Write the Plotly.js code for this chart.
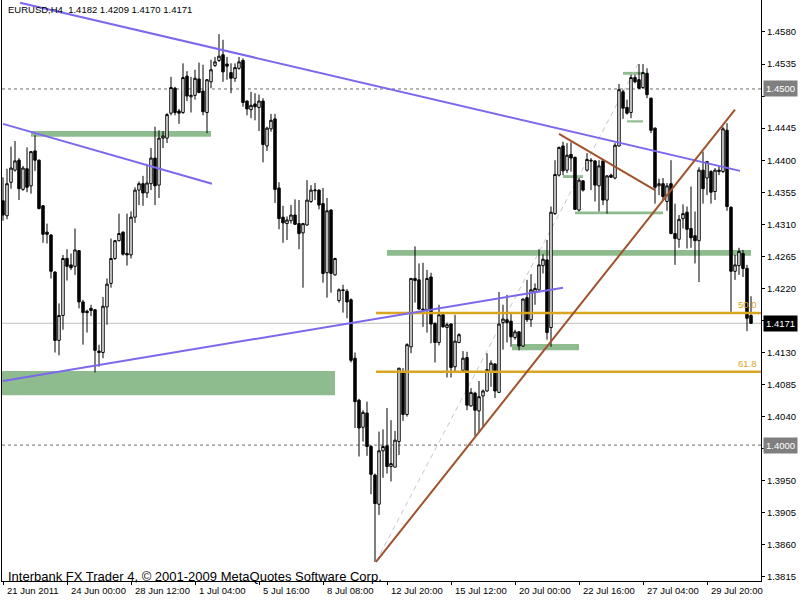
<!DOCTYPE html>
<html>
<head>
<meta charset="utf-8">
<script src="https://cdn.plot.ly/plotly-3.0.1.min.js"></script>
<style>html,body{margin:0;padding:0;background:#fff;}#chart{width:800px;height:600px;}</style>
</head>
<body>
<div id="chart"></div>
<script>
// ---- Candle data (EURUSD H4), one value per bar ----
var openP = [1.4343,1.4322,1.4369,1.4386,1.4400,1.4359,1.4388,1.4364,1.4413,1.4400,
1.4336,1.4299,1.4295,1.4243,1.4147,1.4182,1.4262,1.4253,1.4251,1.4273,
1.4201,1.4188,1.4192,1.4190,1.4132,1.4130,1.4194,1.4227,1.4262,1.4287,
1.4299,1.4269,1.4267,1.4320,1.4358,1.4367,1.4354,1.4367,1.4403,1.4365,
1.4431,1.4431,1.4466,1.4501,1.4469,1.4467,1.4518,1.4489,1.4491,1.4514,
1.4497,1.4467,1.4510,1.4533,1.4540,1.4548,1.4535,1.4523,1.4515,1.4529,
1.4540,1.4483,1.4471,1.4479,1.4474,1.4483,1.4420,1.4444,1.4458,1.4361,
1.4320,1.4311,1.4315,1.4323,1.4311,1.4298,1.4309,1.4342,1.4357,1.4358,
1.4339,1.4242,1.4330,1.4239,1.4203,1.4218,1.4216,1.4204,1.4122,1.4063,
1.4025,1.4045,1.3998,1.3958,1.3917,1.3992,1.3999,1.3970,1.3969,1.4005,
1.4102,1.4043,1.4138,1.4234,1.4232,1.4189,1.4190,1.4236,1.4171,1.4144,
1.4183,1.4165,1.4170,1.4110,1.4144,1.4105,1.4123,1.4055,1.4073,1.4048,
1.4069,1.4076,1.4103,1.4114,1.4074,1.4172,1.4176,1.4174,1.4151,1.4159,
1.4139,1.4207,1.4176,1.4215,1.4218,1.4252,1.4260,1.4165,1.4325,1.4379,
1.4420,1.4386,1.4408,1.4404,1.4330,1.4371,1.4386,1.4400,1.4399,1.4364,
1.4399,1.4344,1.4379,1.4375,1.4420,1.4496,1.4474,1.4467,1.4516,1.4513,
1.4502,1.4522,1.4487,1.4445,1.4364,1.4367,1.4342,1.4367,1.4297,1.4289,
1.4318,1.4327,1.4304,1.4294,1.4287,1.4386,1.4375,1.4384,1.4356,1.4384,
1.4384,1.4442,1.4334,1.4244,1.4252,1.4269,1.4248,1.4182];
var highP = [1.4376,1.4388,1.4419,1.4427,1.4403,1.4392,1.4418,1.4413,1.4435,1.4401,
1.4337,1.4311,1.4296,1.4244,1.4199,1.4267,1.4275,1.4269,1.4304,1.4274,
1.4204,1.4190,1.4197,1.4191,1.4141,1.4208,1.4234,1.4290,1.4288,1.4325,
1.4300,1.4325,1.4328,1.4362,1.4370,1.4378,1.4393,1.4417,1.4447,1.4442,
1.4441,1.4466,1.4517,1.4503,1.4472,1.4536,1.4525,1.4517,1.4527,1.4537,
1.4534,1.4514,1.4541,1.4545,1.4577,1.4569,1.4545,1.4536,1.4536,1.4545,
1.4543,1.4484,1.4496,1.4494,1.4492,1.4487,1.4447,1.4465,1.4465,1.4369,
1.4336,1.4321,1.4337,1.4345,1.4344,1.4312,1.4372,1.4365,1.4368,1.4359,
1.4361,1.4347,1.4331,1.4263,1.4220,1.4225,1.4219,1.4206,1.4130,1.4065,
1.4049,1.4061,1.4000,1.3960,1.4019,1.4022,1.4052,1.4035,1.4020,1.4108,
1.4108,1.4143,1.4234,1.4279,1.4255,1.4256,1.4246,1.4242,1.4172,1.4197,
1.4185,1.4172,1.4171,1.4183,1.4157,1.4132,1.4131,1.4080,1.4075,1.4090,
1.4078,1.4129,1.4119,1.4115,1.4215,1.4197,1.4211,1.4185,1.4162,1.4160,
1.4206,1.4232,1.4240,1.4227,1.4275,1.4268,1.4288,1.4335,1.4400,1.4419,
1.4426,1.4424,1.4425,1.4405,1.4375,1.4372,1.4410,1.4403,1.4400,1.4400,
1.4400,1.4379,1.4381,1.4424,1.4507,1.4499,1.4485,1.4520,1.4520,1.4535,
1.4535,1.4529,1.4488,1.4446,1.4374,1.4375,1.4368,1.4400,1.4339,1.4323,
1.4338,1.4335,1.4363,1.4328,1.4390,1.4412,1.4399,1.4386,1.4389,1.4392,
1.4447,1.4452,1.4335,1.4267,1.4277,1.4274,1.4253,1.4209];
var lowP = [1.4315,1.4317,1.4360,1.4384,1.4344,1.4357,1.4355,1.4353,1.4385,1.4331,
1.4284,1.4283,1.4234,1.4130,1.4126,1.4162,1.4231,1.4246,1.4239,1.4192,
1.4141,1.4158,1.4181,1.4102,1.4110,1.4122,1.4169,1.4221,1.4260,1.4286,
1.4266,1.4252,1.4262,1.4312,1.4337,1.4336,1.4347,1.4358,1.4337,1.4347,
1.4417,1.4424,1.4463,1.4463,1.4451,1.4465,1.4483,1.4467,1.4485,1.4494,
1.4463,1.4438,1.4501,1.4531,1.4538,1.4510,1.4513,1.4494,1.4510,1.4527,
1.4475,1.4463,1.4459,1.4456,1.4441,1.4397,1.4413,1.4440,1.4340,1.4303,
1.4284,1.4288,1.4311,1.4309,1.4275,1.4221,1.4308,1.4340,1.4344,1.4331,
1.4228,1.4207,1.4214,1.4238,1.4200,1.4186,1.4178,1.4116,1.4024,1.3984,
1.4005,1.3985,1.3931,1.3836,1.3902,1.3954,1.3960,1.3949,1.3969,1.3986,
1.4034,1.4040,1.4129,1.4200,1.4190,1.4166,1.4158,1.4143,1.4116,1.4140,
1.4165,1.4095,1.4095,1.4103,1.4143,1.4104,1.4049,1.4054,1.4013,1.4017,
1.4026,1.4075,1.4082,1.4066,1.4073,1.4134,1.4144,1.4138,1.4148,1.4133,
1.4138,1.4173,1.4166,1.4197,1.4215,1.4241,1.4148,1.4138,1.4323,1.4377,
1.4379,1.4382,1.4384,1.4330,1.4328,1.4356,1.4384,1.4358,1.4342,1.4328,
1.4337,1.4325,1.4375,1.4373,1.4419,1.4458,1.4464,1.4459,1.4508,1.4500,
1.4500,1.4487,1.4438,1.4339,1.4351,1.4344,1.4329,1.4296,1.4253,1.4277,
1.4304,1.4276,1.4277,1.4255,1.4229,1.4339,1.4351,1.4339,1.4344,1.4379,
1.4382,1.4329,1.4187,1.4232,1.4239,1.4236,1.4160,1.4170];
var closeP = [1.4323,1.4367,1.4389,1.4399,1.4360,1.4389,1.4362,1.4412,1.4400,1.4332,
1.4296,1.4296,1.4244,1.4147,1.4182,1.4262,1.4251,1.4249,1.4274,1.4201,
1.4186,1.4186,1.4189,1.4133,1.4130,1.4195,1.4226,1.4262,1.4287,1.4297,
1.4268,1.4267,1.4320,1.4358,1.4367,1.4354,1.4368,1.4403,1.4364,1.4431,
1.4434,1.4464,1.4502,1.4467,1.4466,1.4516,1.4490,1.4491,1.4515,1.4495,
1.4468,1.4513,1.4527,1.4538,1.4546,1.4524,1.4532,1.4515,1.4530,1.4538,
1.4481,1.4472,1.4477,1.4475,1.4483,1.4422,1.4445,1.4456,1.4359,1.4318,
1.4312,1.4316,1.4323,1.4310,1.4297,1.4311,1.4344,1.4358,1.4358,1.4337,
1.4241,1.4329,1.4241,1.4262,1.4218,1.4217,1.4201,1.4119,1.4061,1.4024,
1.4046,1.3998,1.3959,1.3918,1.3992,1.3998,1.3970,1.3974,1.4007,1.4108,
1.4043,1.4141,1.4234,1.4231,1.4191,1.4191,1.4234,1.4170,1.4144,1.4183,
1.4166,1.4169,1.4109,1.4146,1.4155,1.4122,1.4056,1.4074,1.4049,1.4068,
1.4076,1.4106,1.4115,1.4076,1.4170,1.4177,1.4172,1.4152,1.4159,1.4139,
1.4205,1.4176,1.4218,1.4220,1.4253,1.4261,1.4158,1.4327,1.4380,1.4418,
1.4385,1.4407,1.4403,1.4331,1.4372,1.4358,1.4401,1.4399,1.4365,1.4392,
1.4344,1.4378,1.4376,1.4421,1.4499,1.4473,1.4466,1.4516,1.4510,1.4501,
1.4523,1.4492,1.4442,1.4362,1.4367,1.4349,1.4364,1.4297,1.4290,1.4317,
1.4325,1.4303,1.4291,1.4287,1.4386,1.4360,1.4398,1.4355,1.4386,1.4386,
1.4444,1.4335,1.4244,1.4253,1.4272,1.4248,1.4178,1.4171];

// ---- Time axis labels (bar index of each label) ----
var timeTickBars = [0,16,32,48,64,80,96,112,128,144,160,176];
var timeTickLabels = ["21 Jun 2011","24 Jun 00:00","28 Jun 12:00","1 Jul 04:00","5 Jul 16:00","8 Jul 08:00",
  "12 Jul 20:00","15 Jul 12:00","20 Jul 00:00","22 Jul 16:00","27 Jul 04:00","29 Jul 20:00"];

// ---- Price axis labels (ticks hidden behind the boxed labels get no text) ----
var priceTicks = [1.3815,1.3860,1.3905,1.3950,1.3995,1.4040,1.4085,1.4130,1.4175,1.4220,
  1.4265,1.4310,1.4355,1.4400,1.4445,1.4490,1.4535,1.4580];
var priceTickLabels = ["1.3815","1.3860","1.3905","1.3950","","1.4040","1.4085","1.4130","","1.4220",
  "1.4265","1.4310","1.4355","1.4400","1.4445","","1.4535","1.4580"];

// ---- Drawn objects (bar index / price) ----
var trendStartBar = [4.25, 0, 0, 93.25, 139];
var trendStartPrice = [1.4621, 1.4451, 1.4090, 1.3836, 1.4437];
var trendEndBar = [184.25, 52.25, 140, 183, 163];
var trendEndPrice = [1.4385, 1.4367, 1.4221, 1.4471, 1.4358];
var trendColor = ["#7B68EE","#7B68EE","#7B68EE","#A0522D","#A0522D"];

var zoneStartBar = [7, -1, 96, 127.25, 143, 140, 155, 156];
var zoneEndBar   = [52, 83, 187, 144, 165, 145, 160, 160];
var zoneLow      = [1.4433, 1.4070, 1.4266, 1.4133, 1.4324, 1.4375, 1.4520, 1.4453];
var zoneHigh     = [1.4441, 1.4104, 1.4274, 1.4142, 1.4328, 1.4379, 1.4524, 1.4456];

var fibLowBar = 93.25, fibLowPrice = 1.3836;
var fibHighBar = 158.75, fibHighPrice = 1.4535;
var fibLevels = [50.0, 61.8];

var hLinePrices = [1.4500, 1.4000];
var bidPrice = 1.4171;

var headerText = "EURUSD,H4  1.4182 1.4209 1.4170 1.4171";
var footerText = "Interbank FX Trader 4, \u00A9 2001-2009 MetaQuotes Software Corp.";

// ---- Build ----
var bars = openP.map(function(_, i){ return i; });
var FONT = "Liberation Sans, Arial, sans-serif";

var trace = {
  type: "candlestick",
  x: bars, open: openP, high: highP, low: lowP, close: closeP,
  increasing: {line: {color: "#000", width: 1}, fillcolor: "#fff"},
  decreasing: {line: {color: "#000", width: 1}, fillcolor: "#000"},
  whiskerwidth: 0,
  hoverinfo: "skip",
  showlegend: false
};

var xMin = -0.25, xMax = 189.5;
var shapes = [];

zoneStartBar.forEach(function(s, k){
  shapes.push({type:"rect", xref:"x", yref:"y", x0:s, x1:zoneEndBar[k], y0:zoneLow[k], y1:zoneHigh[k],
    fillcolor:"#8FBC8F", line:{width:0}, layer:"below"});
});
hLinePrices.forEach(function(p){
  shapes.push({type:"line", xref:"paper", yref:"y", x0:0, x1:1, y0:p, y1:p,
    line:{color:"#6E6E6E", width:1, dash:"3px,3px"}, layer:"below"});
});
shapes.push({type:"line", xref:"paper", yref:"y", x0:0, x1:1, y0:bidPrice, y1:bidPrice,
  line:{color:"#C0C0C0", width:1}, layer:"below"});

// fib baseline
shapes.push({type:"line", xref:"x", yref:"y", x0:fibLowBar, y0:fibLowPrice, x1:fibHighBar, y1:fibHighPrice,
  line:{color:"#C8C8C8", width:1, dash:"5px,4px"}, layer:"below"});

var fibPrices = fibLevels.map(function(l){ return fibHighPrice - l/100*(fibHighPrice - fibLowPrice); });
fibPrices.forEach(function(p){
  shapes.push({type:"line", xref:"x", yref:"y", x0:fibLowBar, x1:xMax, y0:p, y1:p,
    line:{color:"#DAA520", width:2.5}, layer:"above"});
});

trendStartBar.forEach(function(s, k){
  shapes.push({type:"line", xref:"x", yref:"y", x0:s, y0:trendStartPrice[k], x1:trendEndBar[k], y1:trendEndPrice[k],
    line:{color:trendColor[k], width:2}, layer:"above"});
});

var annotations = [];
timeTickBars.forEach(function(b, k){
  annotations.push({xref:"x", yref:"paper", x:b + 0.4, y:-0.016, xanchor:"left", yanchor:"middle",
    text:timeTickLabels[k], showarrow:false, font:{family:FONT, size:9.5, color:"#000"}});
});
fibLevels.forEach(function(l, k){
  annotations.push({xref:"paper", yref:"y", x:0.997, y:fibPrices[k], xanchor:"right", yanchor:"bottom",
    yshift:1, text:l.toFixed(1), showarrow:false, font:{family:FONT, size:9.5, color:"#DAA520"}});
});
hLinePrices.forEach(function(p){
  annotations.push({xref:"paper", yref:"y", x:1.0026, y:p, xanchor:"left", yanchor:"middle",
    text:p.toFixed(4), showarrow:false, bgcolor:"#7F7F7F", borderpad:2,
    font:{family:FONT, size:9.5, color:"#fff"}});
});
annotations.push({xref:"paper", yref:"y", x:1.0026, y:bidPrice, xanchor:"left", yanchor:"middle",
  text:bidPrice.toFixed(4), showarrow:false, bgcolor:"#000", borderpad:2,
  font:{family:FONT, size:9.5, color:"#fff"}});
annotations.push({xref:"paper", yref:"paper", x:0.005, y:0.983, xanchor:"left", yanchor:"middle",
  text:headerText, showarrow:false, font:{family:FONT, size:9.5, color:"#000"}});
annotations.push({xref:"paper", yref:"paper", x:0.005, y:0.008, xanchor:"left", yanchor:"middle",
  text:footerText, showarrow:false, font:{family:FONT, size:13, color:"#000"}});

var layout = {
  width: 800, height: 600,
  margin: {l:2, r:39, t:0, b:19, pad:0},
  paper_bgcolor: "#fff", plot_bgcolor: "#fff",
  showlegend: false,
  boxgap: 0.12,
  xaxis: {range:[xMin, xMax], showgrid:false, zeroline:false, showline:true, linecolor:"#000", linewidth:1,
    ticks:"outside", ticklen:3, tickcolor:"#000", tickvals:timeTickBars, showticklabels:false,
    rangeslider:{visible:false}, fixedrange:true},
  yaxis: {side:"right", range:[1.38092, 1.46249], showgrid:false, zeroline:false, showline:true, mirror:true,
    linecolor:"#000", linewidth:1, ticks:"outside", ticklen:3, tickcolor:"#000",
    tickvals:priceTicks, ticktext:priceTickLabels,
    tickfont:{family:FONT, size:9.5, color:"#000"}, fixedrange:true},
  shapes: shapes,
  annotations: annotations
};

Plotly.newPlot("chart", [trace], layout, {staticPlot:true, displayModeBar:false});
</script>
</body>
</html>
